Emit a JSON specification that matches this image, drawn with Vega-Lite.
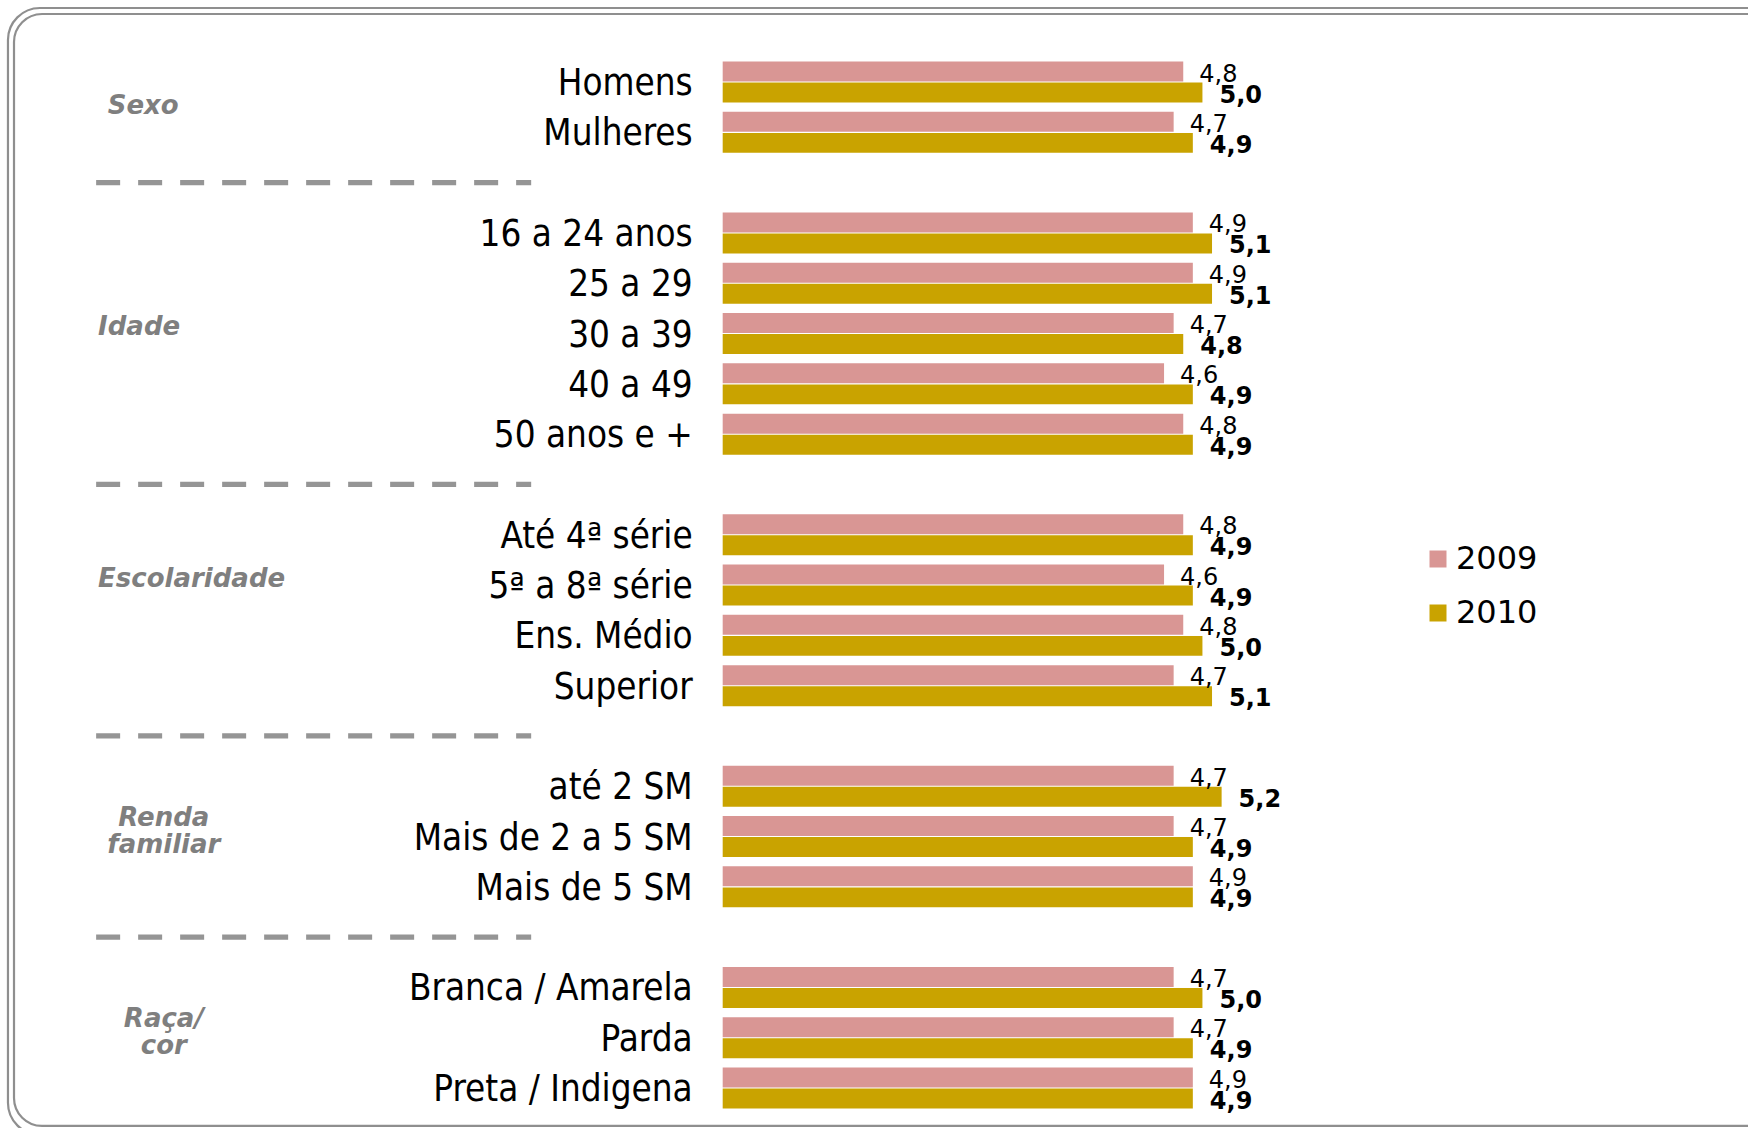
{
  "$schema": "https://vega.github.io/schema/vega-lite/v6.json",
  "width": 1748,
  "height": 1128,
  "autosize": {"type": "fit", "contains": "padding"},
  "padding": 0,
  "background": "#ffffff",
  "config": {
    "view": {"stroke": null},
    "font": "DejaVu Sans",
    "locale": {
      "number": {"decimal": ",", "thousands": ".", "grouping": [3], "currency": ["R$", ""]}
    }
  },
  "datasets": {
    "notas": [
      {"categoria": "Homens", "ano": "2009", "valor": 4.8},
      {"categoria": "Homens", "ano": "2010", "valor": 5.0},
      {"categoria": "Mulheres", "ano": "2009", "valor": 4.7},
      {"categoria": "Mulheres", "ano": "2010", "valor": 4.9},
      {"categoria": "16 a 24 anos", "ano": "2009", "valor": 4.9},
      {"categoria": "16 a 24 anos", "ano": "2010", "valor": 5.1},
      {"categoria": "25 a 29", "ano": "2009", "valor": 4.9},
      {"categoria": "25 a 29", "ano": "2010", "valor": 5.1},
      {"categoria": "30 a 39", "ano": "2009", "valor": 4.7},
      {"categoria": "30 a 39", "ano": "2010", "valor": 4.8},
      {"categoria": "40 a 49", "ano": "2009", "valor": 4.6},
      {"categoria": "40 a 49", "ano": "2010", "valor": 4.9},
      {"categoria": "50 anos e +", "ano": "2009", "valor": 4.8},
      {"categoria": "50 anos e +", "ano": "2010", "valor": 4.9},
      {"categoria": "Até 4ª série", "ano": "2009", "valor": 4.8},
      {"categoria": "Até 4ª série", "ano": "2010", "valor": 4.9},
      {"categoria": "5ª a 8ª série", "ano": "2009", "valor": 4.6},
      {"categoria": "5ª a 8ª série", "ano": "2010", "valor": 4.9},
      {"categoria": "Ens. Médio", "ano": "2009", "valor": 4.8},
      {"categoria": "Ens. Médio", "ano": "2010", "valor": 5.0},
      {"categoria": "Superior", "ano": "2009", "valor": 4.7},
      {"categoria": "Superior", "ano": "2010", "valor": 5.1},
      {"categoria": "até 2 SM", "ano": "2009", "valor": 4.7},
      {"categoria": "até 2 SM", "ano": "2010", "valor": 5.2},
      {"categoria": "Mais de 2 a 5 SM", "ano": "2009", "valor": 4.7},
      {"categoria": "Mais de 2 a 5 SM", "ano": "2010", "valor": 4.9},
      {"categoria": "Mais de 5 SM", "ano": "2009", "valor": 4.9},
      {"categoria": "Mais de 5 SM", "ano": "2010", "valor": 4.9},
      {"categoria": "Branca / Amarela", "ano": "2009", "valor": 4.7},
      {"categoria": "Branca / Amarela", "ano": "2010", "valor": 5.0},
      {"categoria": "Parda", "ano": "2009", "valor": 4.7},
      {"categoria": "Parda", "ano": "2010", "valor": 4.9},
      {"categoria": "Preta / Indigena", "ano": "2009", "valor": 4.9},
      {"categoria": "Preta / Indigena", "ano": "2010", "valor": 4.9}
    ],
    "grupos": [
      {"grupo": "Sexo", "ancora": "Homens", "linhas": 1},
      {"grupo": "Idade", "ancora": "30 a 39", "linhas": 1},
      {"grupo": "Escolaridade", "ancora": "5ª a 8ª série", "linhas": 1},
      {"grupo": "Renda\nfamiliar", "ancora": "Mais de 2 a 5 SM", "linhas": 2},
      {"grupo": "Raça/\ncor", "ancora": "Parda", "linhas": 2}
    ],
    "divisorias": [
      {"linha": "sep1"},
      {"linha": "sep2"},
      {"linha": "sep3"},
      {"linha": "sep4"}
    ]
  },
  "resolve": {"scale": {"y": "independent"}},
  "layer": [
    {
      "description": "outer line of the rounded card border",
      "data": {"values": [{}]},
      "mark": {"type": "rect", "filled": false, "stroke": "#8f8f8f", "strokeWidth": 2.2, "cornerRadius": 32, "clip": true},
      "encoding": {
        "x": {"datum": -7.449, "type": "quantitative"},
        "x2": {"datum": 11.3},
        "y": {"datum": 0.71, "type": "quantitative", "axis": null,
              "scale": {"domain": [0, 100], "reverse": true, "nice": false, "zero": false}},
        "y2": {"datum": 100.6}
      }
    },
    {
      "description": "inner line of the rounded card border",
      "data": {"values": [{}]},
      "mark": {"type": "rect", "filled": false, "stroke": "#8f8f8f", "strokeWidth": 2.2, "cornerRadius": 28, "clip": true},
      "encoding": {
        "x": {"datum": -7.386, "type": "quantitative"},
        "x2": {"datum": 11.2},
        "y": {"datum": 1.24, "type": "quantitative", "axis": null,
              "scale": {"domain": [0, 100], "reverse": true, "nice": false, "zero": false}},
        "y2": {"datum": 99.82}
      }
    },
    {
      "layer": [
        {
          "data": {"name": "notas"},
          "mark": {"type": "bar"},
          "encoding": {
            "y": {
              "field": "categoria", "type": "nominal", "axis": null, "sort": null,
              "scale": {
                "domain": ["Homens", "Mulheres", "sep1", "16 a 24 anos", "25 a 29", "30 a 39", "40 a 49", "50 anos e +", "sep2", "Até 4ª série", "5ª a 8ª série", "Ens. Médio", "Superior", "sep3", "até 2 SM", "Mais de 2 a 5 SM", "Mais de 5 SM", "sep4", "Branca / Amarela", "Parda", "Preta / Indigena"],
                "paddingInner": 0.185, "paddingOuter": 0.8052, "align": 0.76, "round": false
              }
            },
            "yOffset": {"field": "ano", "type": "nominal", "scale": {"paddingInner": 0.05, "paddingOuter": 0}},
            "x": {"field": "valor", "type": "quantitative", "axis": null,
                  "scale": {"domain": [-7.532, 10.686], "nice": false, "zero": false}},
            "color": {
              "field": "ano", "type": "nominal",
              "scale": {"domain": ["2009", "2010"], "range": ["#d99694", "#c9a300"]},
              "legend": {
                "orient": "none", "legendX": 1422, "legendY": 543, "title": null,
                "symbolType": "square", "symbolSize": 289, "symbolStrokeWidth": 0, "symbolOpacity": 1,
                "labelFont": "DejaVu Sans", "labelFontSize": 32, "labelColor": "#000000",
                "labelOffset": 2, "rowPadding": 22, "padding": 0
              }
            }
          }
        },
        {
          "data": {"name": "notas"},
          "transform": [{"filter": "datum.ano == '2009'"}],
          "mark": {"type": "text", "align": "left", "baseline": "middle", "dx": 16, "dy": 3, "fontSize": 24, "font": "DejaVu Sans", "color": "#000000"},
          "encoding": {
            "y": {"field": "categoria", "type": "nominal"},
            "yOffset": {"field": "ano", "type": "nominal"},
            "x": {"field": "valor", "type": "quantitative"},
            "text": {"field": "valor", "type": "quantitative", "format": ".1f"}
          }
        },
        {
          "data": {"name": "notas"},
          "transform": [{"filter": "datum.ano == '2010'"}],
          "mark": {"type": "text", "align": "left", "baseline": "middle", "dx": 17, "dy": 3, "fontSize": 24, "fontWeight": "bold", "font": "DejaVu Sans", "color": "#000000"},
          "encoding": {
            "y": {"field": "categoria", "type": "nominal"},
            "yOffset": {"field": "ano", "type": "nominal"},
            "x": {"field": "valor", "type": "quantitative"},
            "text": {"field": "valor", "type": "quantitative", "format": ".1f"}
          }
        },
        {
          "data": {"name": "notas"},
          "transform": [{"filter": "datum.ano == '2009'"}],
          "mark": {"type": "text", "align": "right", "baseline": "middle", "dx": -30, "dy": 2, "fontSize": 36.5, "font": "DejaVu Sans Condensed, DejaVu Sans", "color": "#000000"},
          "encoding": {
            "y": {"field": "categoria", "type": "nominal"},
            "x": {"datum": 0, "type": "quantitative"},
            "text": {"field": "categoria", "type": "nominal"}
          }
        },
        {
          "data": {"name": "divisorias"},
          "mark": {"type": "rule", "color": "#959595", "strokeWidth": 5.3, "strokeDash": [24, 18], "strokeCap": "butt"},
          "encoding": {
            "y": {"field": "linha", "type": "nominal"},
            "x": {"datum": -6.53, "type": "quantitative"},
            "x2": {"datum": -1.996}
          }
        },
        {
          "data": {"name": "grupos"},
          "transform": [{"filter": "datum.ancora == 'Homens'"}],
          "mark": {"type": "text", "align": "left", "baseline": "middle", "dy": 3, "fontSize": 26, "fontWeight": "bold", "fontStyle": "italic", "font": "DejaVu Sans", "color": "#7f7f7f"},
          "encoding": {
            "y": {"field": "ancora", "type": "nominal", "bandPosition": 1},
            "x": {"datum": -6.41, "type": "quantitative"},
            "text": {"field": "grupo", "type": "nominal"}
          }
        },
        {
          "data": {"name": "grupos"},
          "transform": [{"filter": "datum.ancora != 'Homens' && datum.linhas == 1"}],
          "mark": {"type": "text", "align": "left", "baseline": "middle", "dy": -6.5, "fontSize": 26, "fontWeight": "bold", "fontStyle": "italic", "font": "DejaVu Sans", "color": "#7f7f7f"},
          "encoding": {
            "y": {"field": "ancora", "type": "nominal"},
            "x": {"datum": -6.51, "type": "quantitative"},
            "text": {"field": "grupo", "type": "nominal"}
          }
        },
        {
          "data": {"name": "grupos"},
          "transform": [{"filter": "datum.linhas == 2"}],
          "mark": {"type": "text", "align": "center", "baseline": "middle", "dy": -19, "fontSize": 26, "lineHeight": 27, "lineBreak": "\n", "fontWeight": "bold", "fontStyle": "italic", "font": "DejaVu Sans", "color": "#7f7f7f"},
          "encoding": {
            "y": {"field": "ancora", "type": "nominal"},
            "x": {"datum": -5.824, "type": "quantitative"},
            "text": {"field": "grupo", "type": "nominal"}
          }
        }
      ]
    }
  ]
}
